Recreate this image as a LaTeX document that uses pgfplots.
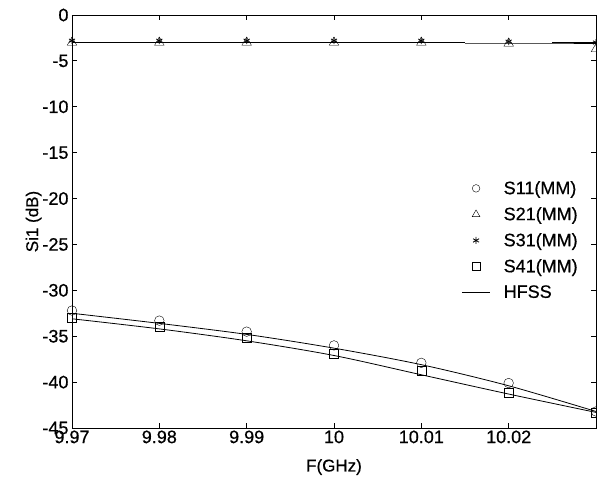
\documentclass[border=0pt]{standalone}
\usepackage{fontspec}
\setmainfont{Liberation Sans}[FakeBold=0.6]
\usepackage{pgfplots}
\pgfplotsset{compat=1.18}
\pgfplotsset{
  legmark/.style={legend image code/.code={\draw[##1, mark size=#1] plot coordinates {(0.5cm,0cm)};}},
  legline/.style={legend image code/.code={\draw[##1] (0cm,0cm) -- (1cm,0cm);}},
}
\begin{document}
\begin{tikzpicture}
\begin{axis}[
  at={(0,0)}, anchor=south west,
  scale only axis, width=524pt, height=413pt,
  xmin=9.97, xmax=10.03, ymin=-45, ymax=0,
  xtick={9.97,9.98,9.99,10,10.01,10.02},
  xticklabels={9.97,9.98,9.99,10,10.01,10.02},
  extra x ticks={10.03}, extra x tick labels={},
  ytick={-45,-40,...,0},
  tick align=inside, major tick length=5pt,
  tick style={black, line width=0.8pt},
  axis line style={line width=0.9pt},
  /pgf/number format/assume math mode=true,
  yticklabel style={font=\fontsize{18}{20}\selectfont, xshift=0pt},
  xticklabel style={font=\fontsize{18}{20}\selectfont, yshift=1pt},
  xlabel={F(GHz)}, ylabel={Si1 (dB)},
  label style={font=\fontsize{17}{19}\selectfont},
  xlabel style={yshift=-9pt},
  ylabel style={yshift=-6pt},
  legend style={draw=none, fill=none, font=\fontsize{18}{20}\selectfont,
    at={(0.975,0.608)}, anchor=north east, row sep=7.5pt,
    /tikz/every odd column/.append style={column sep=11pt}},
  legend cell align=left,
  clip=false,
]
\addplot[only marks, mark=o, mark size=4.8pt, black, thin, legmark=3.8pt] coordinates {
(9.97,-32.2) (9.98,-33.3) (9.99,-34.5) (10,-36.0) (10.01,-37.9) (10.02,-40.1) (10.03,-43.2)};
\addlegendentry{S11(MM)}
\addplot[only marks, mark=triangle, mark size=5.5pt, black, thin, legmark=4.5pt] coordinates {
(9.97,-3.0) (9.98,-3.0) (9.99,-3.0) (10,-3.0) (10.01,-3.0) (10.02,-3.1) (10.03,-3.7)};
\addlegendentry{S21(MM)}
\addplot[only marks, mark=asterisk, mark size=3.5pt, black, thick, legmark=3.5pt] coordinates {
(9.97,-2.8) (9.98,-2.8) (9.99,-2.8) (10,-2.8) (10.01,-2.8) (10.02,-2.9) (10.03,-3.0)};
\addlegendentry{S31(MM)}
\addplot[only marks, mark=square, mark size=4.5pt, black, thin, legmark=3.8pt] coordinates {
(9.97,-33.0) (9.98,-34.0) (9.99,-35.2) (10,-36.9) (10.01,-38.8) (10.02,-41.1) (10.03,-43.3)};
\addlegendentry{S41(MM)}
\addplot[black, line width=0.8pt, smooth, legline] coordinates {
(9.97,-32.5) (9.98,-33.6) (9.99,-34.8) (10,-36.3) (10.01,-38.1) (10.02,-40.4) (10.03,-43.2)};
\addlegendentry{HFSS}
\addplot[black, line width=0.8pt, smooth, forget plot] coordinates {
(9.97,-33.1) (9.98,-34.2) (9.99,-35.5) (10,-37.1) (10.01,-39.2) (10.02,-41.3) (10.03,-43.3)};
\addplot[black, line width=1.8pt, forget plot] coordinates {
(9.97,-3.0) (9.98,-3.0) (9.99,-3.0) (10,-3.0) (10.01,-3.0) (10.015,-3.0)};
\addplot[black, line width=0.8pt, forget plot] coordinates {
(10.015,-3.05) (10.025,-3.05) (10.03,-3.05)};
\addplot[black, line width=1.8pt, forget plot] coordinates {
(10.025,-3.0) (10.03,-3.0)};
\end{axis}
\pgfresetboundingbox
\path (-72pt,-49pt) rectangle (525pt,428pt);
\end{tikzpicture}
\end{document}
